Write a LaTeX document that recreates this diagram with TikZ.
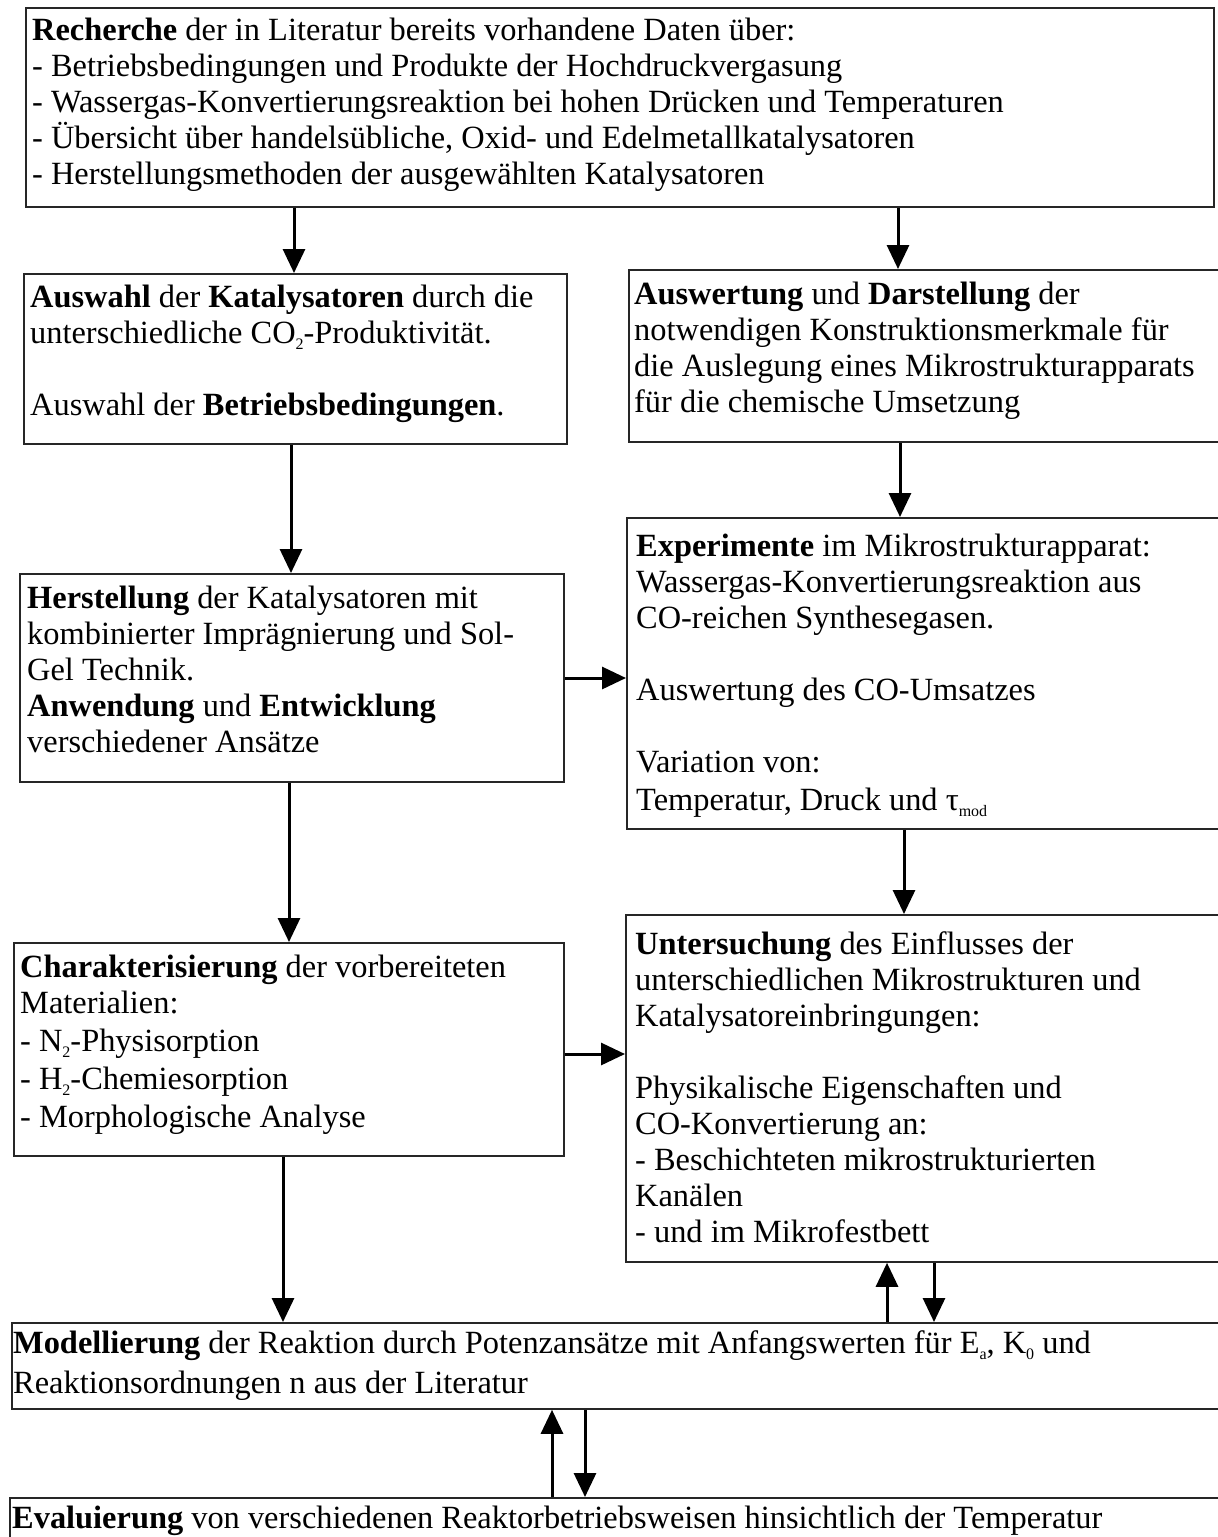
\documentclass[tikz,border=0pt]{standalone}
\usepackage{fontspec}
\setmainfont{Liberation Serif}
\usetikzlibrary{arrows.meta}
\tikzset{
  boxnode/.style={draw=black!85, line width=1.8pt, inner sep=0pt, anchor=north west},
  txt/.style={anchor=north west, inner sep=0pt, align=left, font=\fontsize{32.4}{36}\selectfont},
  arr/.style={line width=3pt, -{Triangle[width=22pt,length=24pt]}}
}
\newcommand{\fs}{\rule{0pt}{25pt}}
\newcommand{\lowsub}[1]{\raisebox{-6pt}{\fontsize{16}{16}\selectfont #1}}
\begin{document}
\begin{tikzpicture}[x=1pt,y=-1pt]
\useasboundingbox (0,0) rectangle (1218,1537);
% boxes
\node[boxnode, minimum width=1188pt, minimum height=199pt] (b1) at (25,7) {};
\node[boxnode, minimum width=543pt, minimum height=170pt] (b2) at (23,273) {};
\node[boxnode, minimum width=590pt, minimum height=172pt] (b3) at (628,269) {};
\node[boxnode, minimum width=544pt, minimum height=208pt] (b4) at (19,573) {};
\node[boxnode, minimum width=592pt, minimum height=311pt] (b5) at (626,517) {};
\node[boxnode, minimum width=550pt, minimum height=213pt] (b6) at (13,942) {};
\node[boxnode, minimum width=593pt, minimum height=347pt] (b7) at (625,914) {};
\node[boxnode, minimum width=1207pt, minimum height=86pt] (b8) at (11,1322) {};
\node[boxnode, minimum width=1209pt, minimum height=60pt] (b9) at (9,1497) {};
% texts
\node[txt] (t1) at (32,15) {\fs\textbf{Recherche} der in Literatur bereits vorhandene Daten über:\\
- Betriebsbedingungen und Produkte der Hochdruckvergasung\\
- Wassergas-Konvertierungsreaktion bei hohen Drücken und Temperaturen\\
- Übersicht über handelsübliche, Oxid- und Edelmetallkatalysatoren\\
- Herstellungsmethoden der ausgewählten Katalysatoren};
\node[txt] (t2) at (30,282) {\fs\textbf{Auswahl} der \textbf{Katalysatoren} durch die\\
unterschiedliche CO\lowsub{2}-Produktivität.\\[36pt]
Auswahl der \textbf{Betriebsbedingungen}.};
\node[txt] (t3) at (634,279) {\fs\textbf{Auswertung} und \textbf{Darstellung} der\\
notwendigen Konstruktionsmerkmale für\\
die Auslegung eines Mikrostrukturapparats\\
für die chemische Umsetzung};
\node[txt] (t4) at (27,583) {\fs\textbf{Herstellung} der Katalysatoren mit\\
kombinierter Imprägnierung und Sol-\\
Gel Technik.\\
\textbf{Anwendung} und \textbf{Entwicklung}\\
verschiedener Ansätze};
\node[txt] (t5) at (636,531) {\fs\textbf{Experimente} im Mikrostrukturapparat:\\
Wassergas-Konvertierungsreaktion aus\\
CO-reichen Synthesegasen.\\[36pt]
Auswertung des CO-Umsatzes\\[36pt]
Variation von:\\[2pt]
Temperatur, Druck und τ\lowsub{mod}};
\node[txt] (t6) at (20,952) {\fs\textbf{Charakterisierung} der vorbereiteten\\
Materialien:\\[2pt]
- N\lowsub{2}-Physisorption\\[2pt]
- H\lowsub{2}-Chemiesorption\\[2pt]
- Morphologische Analyse};
\node[txt] (t7) at (635,929) {\fs\textbf{Untersuchung} des Einflusses der\\
unterschiedlichen Mikrostrukturen und\\
Katalysatoreinbringungen:\\[36pt]
Physikalische Eigenschaften und\\
CO-Konvertierung an:\\
- Beschichteten mikrostrukturierten\\
Kanälen\\
- und im Mikrofestbett};
\node[txt] (t8) at (13,1328) {\fs\textbf{Modellierung} der Reaktion durch Potenzansätze mit Anfangswerten für E\lowsub{a}, K\lowsub{0} und\\[4pt]
Reaktionsordnungen n aus der Literatur};
\node[txt] (t9) at (12,1503) {\fs\textbf{Evaluierung} von verschiedenen Reaktorbetriebsweisen hinsichtlich der Temperatur};
% arrows
\draw[arr] (294,0 |- b1.south) -- (294,0 |- b2.north);
\draw[arr] (898,0 |- b1.south) -- (898,0 |- b3.north);
\draw[arr] (291,0 |- b2.south) -- (291,0 |- b4.north);
\draw[arr] (900,0 |- b3.south) -- (900,0 |- b5.north);
\draw[arr] (0,678 -| b4.east) -- (0,678 -| b5.west);
\draw[arr] (289,0 |- b4.south) -- (289,0 |- b6.north);
\draw[arr] (904,0 |- b5.south) -- (904,0 |- b7.north);
\draw[arr] (0,1054 -| b6.east) -- (0,1054 -| b7.west);
\draw[arr] (283,0 |- b6.south) -- (283,0 |- b8.north);
\draw[arr] (887,0 |- b8.north) -- (887,0 |- b7.south);
\draw[arr] (934,0 |- b7.south) -- (934,0 |- b8.north);
\draw[arr] (552,0 |- b9.north) -- (552,0 |- b8.south);
\draw[arr] (585,0 |- b8.south) -- (585,0 |- b9.north);
\end{tikzpicture}
\end{document}
